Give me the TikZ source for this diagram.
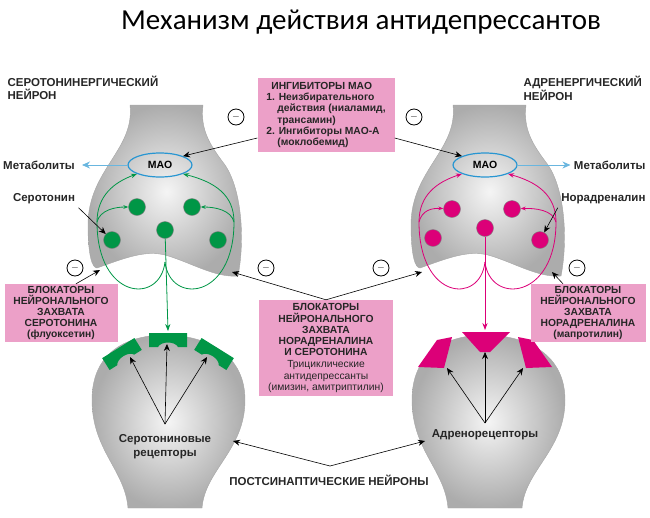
\documentclass[tikz,border=0pt]{standalone}
\usepackage{fontspec}
\setmainfont{Liberation Sans}
\newfontfamily\titlefont{Carlito}
\usetikzlibrary{shapes.geometric, arrows.meta, positioning}
\definecolor{sero}{RGB}{0,150,70}
\definecolor{nora}{RGB}{220,0,120}
\definecolor{boxpink}{RGB}{236,160,200}
\definecolor{maoblue}{RGB}{40,150,210}
\tikzstyle{arrow} = [semithick,-{Stealth[length=7pt,width=6pt]}]
\tikzstyle{metab} = [thick,maoblue!70,-{Stealth[length=8pt,width=7pt]}]
\tikzstyle{info} = [rectangle, fill=boxpink, align=center, inner sep=1pt, text=black!85, font=\bfseries\fontsize{10.3}{11.2}\selectfont]
\tikzstyle{label} = [align=center, text=black!85, font=\bfseries\fontsize{11.5}{12.5}\selectfont]
\tikzstyle{minus} = [circle, draw, thick, inner sep=0pt, minimum size=16pt, font=\bfseries]
\tikzstyle{mao} = [ellipse, draw=maoblue, very thick, minimum width=64pt, minimum height=24pt, font=\bfseries\fontsize{10.5}{10.5}\selectfont]
\tikzstyle{vesicle} = [circle, draw=black!50, minimum size=17pt, inner sep=0pt]
\tikzstyle{bulb} = [inner color=gray!8, outer color=gray!65, draw=gray!70]
\newcommand{\presyn}{(130,105) .. controls (135,150) and (88,170) .. (88,225) .. controls (88,255) and (92,268) .. (97,268) .. controls (125,258) and (145,250) .. (165,255) .. controls (190,262) and (215,278) .. (238,276) .. controls (245,240) and (242,190) .. (225,165) .. controls (210,145) and (200,130) .. (203,105) -- cycle}
\newcommand{\postsyn}{(128,508) .. controls (125,470) and (92,450) .. (92,400) .. controls (92,350) and (130,335) .. (165,335) .. controls (200,335) and (245,350) .. (245,400) .. controls (245,450) and (205,470) .. (202,508) -- cycle}
\newcommand{\grec}{(-19,-7) -- (19,-7) -- (19,7) -- (10,7) .. controls (7,1) and (-7,1) .. (-10,7) -- (-19,7) -- cycle}
\begin{document}
\begin{tikzpicture}[x=1pt, y=-1pt]
    \useasboundingbox (0,0) rectangle (650,517);

    % Title
    \node (title) at (361,22) {\titlefont\fontsize{29}{29}\selectfont Механизм действия антидепрессантов};

    % Neurons
    \shade [bulb] \presyn;
    \shade [bulb, xshift=323pt] \presyn;
    \shade [bulb] \postsyn;
    \shade [bulb, xshift=320pt] \postsyn;

    % Receptors
    \fill [sero, shift={(168,340)}] \grec;
    \fill [sero, shift={(122,354)}, rotate=32] \grec;
    \fill [sero, shift={(214,354)}, rotate=-32] \grec;
    \fill [nora] (462,332) -- (510,332) -- (490,352) -- (480,352) -- cycle;
    \fill [nora] (418,367) -- (437,340) -- (452,337) -- (444,368) -- cycle;
    \fill [nora] (552,367) -- (533,340) -- (518,337) -- (526,368) -- cycle;

    % Serotonergic neuron
    \node (maoL) [mao] at (160,165) {МАО};
    \node (metL) [label] at (39,165) {Метаболиты};
    \foreach \n/\x/\y in {1/137/207, 2/192/207, 3/112/240, 4/165/230, 5/218/240}
        \node (sv\n) [vesicle, fill=sero] at (\x,\y) {};
    \coordinate (slb) at (97,222);
    \coordinate (srb) at (234,222);
    \coordinate (sbot) at (165,262);
    \draw [sero, thick] (sbot) .. controls (160,305) and (97,300) .. (slb);
    \draw [sero, thick] (sbot) .. controls (170,305) and (234,300) .. (srb);
    \draw [sero, thick, -{Stealth[length=6pt]}] (slb) .. controls (97,195) and (115,182) .. (maoL.south west);
    \draw [sero, thick, -{Stealth[length=6pt]}] (srb) .. controls (234,195) and (215,182) .. (maoL.south east);
    \draw [sero, thick, -{Stealth[length=5pt]}] (slb) .. controls (100,210) and (115,207) .. (sv1);
    \draw [sero, thick, -{Stealth[length=5pt]}] (srb) .. controls (231,210) and (215,207) .. (sv2);
    \coordinate (srec) at (168,331);
    \draw [sero, thick, -{Stealth[length=7pt]}] (sv4) -- (srec);
    \draw [metab] (maoL) -- (82,165);
    \node (seroL) [label] at (44,199) {Серотонин};
    \draw [arrow] (seroL.south east) -- (sv3);
    \node (serN) [label, anchor=north west, align=left] at (4,73) {СЕРОТОНИНЕРГИЧЕСКИЙ\\НЕЙРОН};

    % Adrenergic neuron
    \node (maoR) [mao] at (485,165) {МАО};
    \node (metR) [label, anchor=east] at (649,165) {Метаболиты};
    \foreach \n/\x/\y in {1/452/209, 2/512/209, 3/433/238, 4/485/228, 5/540/240}
        \node (nv\n) [vesicle, fill=nora] at (\x,\y) {};
    \coordinate (nlb) at (419,222);
    \coordinate (nrb) at (556,222);
    \coordinate (nbot) at (485,262);
    \draw [nora, thick] (nbot) .. controls (480,305) and (419,300) .. (nlb);
    \draw [nora, thick] (nbot) .. controls (490,305) and (556,300) .. (nrb);
    \draw [nora, thick, -{Stealth[length=6pt]}] (nlb) .. controls (419,195) and (437,182) .. (maoR.south west);
    \draw [nora, thick, -{Stealth[length=6pt]}] (nrb) .. controls (556,195) and (537,182) .. (maoR.south east);
    \draw [nora, thick, -{Stealth[length=5pt]}] (nlb) .. controls (422,210) and (432,208) .. (nv1);
    \draw [nora, thick, -{Stealth[length=5pt]}] (nrb) .. controls (553,210) and (535,208) .. (nv2);
    \coordinate (nrec) at (485,330);
    \draw [nora, thick, -{Stealth[length=7pt]}] (nv4) -- (nrec);
    \draw [metab] (maoR) -- (metR.west);
    \node (noraL) [label, anchor=east] at (649,199) {Норадреналин};
    \draw [arrow] (noraL.south west) -- (nv5);
    \node (adrN) [label, anchor=north west, align=left] at (520,73) {АДРЕНЕРГИЧЕСКИЙ\\НЕЙРОН};

    % MAO inhibitors
    \node (inhib) [info, minimum width=137pt, minimum height=74pt, align=left] at (326,115)
        {\hspace*{5pt}ИНГИБИТОРЫ МАО\\1. Неизбирательного\\\hspace*{11pt}действия (ниаламид,\\\hspace*{11pt}трансамин)\\2. Ингибиторы МАО-А\\\hspace*{11pt}(моклобемид)};
    \node (m1) [minus] at (236,117) {$-$};
    \node (m2) [minus] at (414,117) {$-$};
    \draw [arrow] (inhib.west |- 0,138) -- (maoL.north east);
    \draw [arrow] (inhib.east |- 0,138) -- (maoR.north west);

    % Reuptake blockers
    \node (blkS) [info, minimum width=113pt, minimum height=58pt] at (61,313)
        {БЛОКАТОРЫ\\НЕЙРОНАЛЬНОГО\\ЗАХВАТА\\СЕРОТОНИНА\\(флуоксетин)};
    \node (blkN) [info, minimum width=115pt, minimum height=58pt] at (588,313)
        {БЛОКАТОРЫ\\НЕЙРОНАЛЬНОГО\\ЗАХВАТА\\НОРАДРЕНАЛИНА\\(мапротилин)};
    \node (blkB) [info, minimum width=134pt, minimum height=96pt] at (326,348)
        {БЛОКАТОРЫ\\НЕЙРОНАЛЬНОГО\\ЗАХВАТА\\НОРАДРЕНАЛИНА\\И СЕРОТОНИНА\\[1pt]{\mdseries Трициклические}\\{\mdseries антидепрессанты}\\{\mdseries (имизин, амитриптилин)}};
    \node (m3) [minus] at (75,268) {$-$};
    \node (m4) [minus] at (577,268) {$-$};
    \node (m5) [minus] at (266,268) {$-$};
    \node (m6) [minus] at (381,268) {$-$};
    \coordinate (tS) at (100,270);
    \coordinate (tN) at (552,272);
    \coordinate (tBL) at (232,272);
    \coordinate (tBR) at (422,272);
    \draw [arrow] (blkS.north) ++(15,0) -- (tS);
    \draw [arrow] (blkN.north) ++(-25,0) -- (tN);
    \draw [arrow] (blkB.north) -- (tBL);
    \draw [arrow] (blkB.north) -- (tBR);

    % Postsynaptic neurons
    \node (sRec) [label, font=\bfseries\fontsize{11.5}{14}\selectfont] at (165,447) {Серотониновые\\рецепторы};
    \node (aRec) [label] at (485,435) {Адренорецепторы};
    \coordinate (sRoot) at (165,424);
    \coordinate (aRoot) at (485,423);
    \draw [arrow] (sRoot) -- (130,357);
    \draw [arrow] (sRoot) -- (167,344);
    \draw [arrow] (sRoot) -- (207,357);
    \draw [arrow] (aRoot) -- (447,368);
    \draw [arrow] (aRoot) -- (485,352);
    \draw [arrow] (aRoot) -- (523,368);
    \node (post) [label] at (329,480) {ПОСТСИНАПТИЧЕСКИЕ НЕЙРОНЫ};
    \coordinate (pHub) at (330,466);
    \draw [arrow] (pHub) -- (233,441);
    \draw [arrow] (pHub) -- (425,441);

\end{tikzpicture}
\end{document}
